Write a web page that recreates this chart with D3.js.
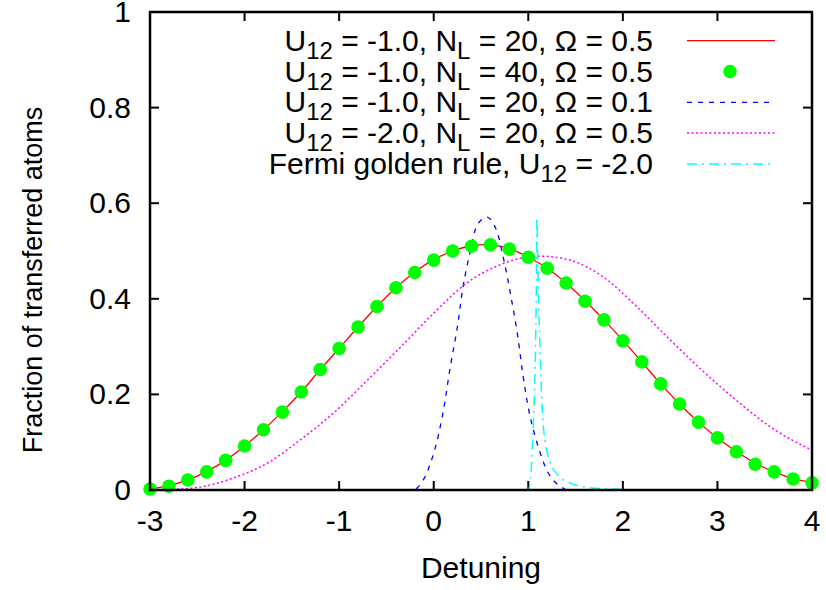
<!DOCTYPE html>
<html><head><meta charset="utf-8">
<script src="https://cdn.jsdelivr.net/npm/d3@7"></script>
<style>body{margin:0;background:#fff}text{font-family:"Liberation Sans",Arial,sans-serif}</style>
</head><body><svg id="c" width="826" height="590"></svg>
<script>
// ---- data ----
const gridX = [-3,-2.8,-2.6,-2.4,-2.2,-2.0,-1.8,-1.6,-1.4,-1.2,-1.0,-0.8,-0.6,-0.4,-0.2,0,0.2,0.4,0.6,0.8,1.0,1.2,1.4,1.6,1.8,2.0,2.2,2.4,2.6,2.8,3.0,3.2,3.4,3.6,3.8,4.0];
const redY = [0.002,0.009,0.021,0.039,0.062,0.092,0.126,0.164,0.205,0.252,0.296,0.341,0.384,0.423,0.456,0.482,0.500,0.511,0.513,0.505,0.487,0.464,0.433,0.396,0.356,0.313,0.268,0.222,0.180,0.142,0.109,0.081,0.056,0.038,0.024,0.016];
const greenY = [0.002,0.008,0.021,0.038,0.062,0.092,0.126,0.163,0.205,0.252,0.296,0.341,0.384,0.423,0.455,0.481,0.500,0.510,0.513,0.504,0.487,0.464,0.433,0.395,0.356,0.312,0.268,0.222,0.180,0.142,0.109,0.080,0.054,0.038,0.023,0.015];
const blueX = [-0.3,-0.2,-0.11,0,0.09,0.175,0.25,0.31,0.39,0.47,0.566,0.65,0.735,0.81,0.884,0.947,1.02,1.127,1.21,1.29,1.4];
const blueY = [0,0.001,0.021,0.077,0.153,0.257,0.341,0.425,0.502,0.558,0.571,0.55,0.487,0.412,0.328,0.236,0.153,0.077,0.036,0.015,0];
const magX = [-3,-2.79,-2.47,-2.12,-1.76,-1.41,-1.06,-0.70,-0.35,0,0.35,0.70,0.95,1.15,1.44,1.79,2.15,2.50,2.85,3.21,3.56,4.0];
const magY = [0,0.001,0.006,0.025,0.056,0.105,0.161,0.23,0.299,0.37,0.433,0.471,0.486,0.489,0.481,0.446,0.383,0.314,0.248,0.186,0.132,0.083];
const cyanX = [0.5,0.9,1.0,1.03,1.05,1.065,1.075,1.085,1.092,1.1,1.11,1.127,1.15,1.18,1.21,1.26,1.33,1.44,1.6,1.9,2.3,2.5];
const cyanY = [0,0,0,0.04,0.12,0.2,0.28,0.42,0.57,0.48,0.39,0.28,0.16,0.1,0.07,0.045,0.028,0.015,0.006,0.002,0,0];
const xTicks = [-3,-2,-1,0,1,2,3,4];
const yTicks = [0,0.2,0.4,0.6,0.8,1];
const xTickLabels = ["-3","-2","-1","0","1","2","3","4"];
const yTickLabels = ["0","0.2","0.4","0.6","0.8","1"];
const legendLabels = [
  [["U",""],["12","sub"],[" = -1.0, N",""],["L","sub"],[" = 20, Ω = 0.5",""]],
  [["U",""],["12","sub"],[" = -1.0, N",""],["L","sub"],[" = 40, Ω = 0.5",""]],
  [["U",""],["12","sub"],[" = -1.0, N",""],["L","sub"],[" = 20, Ω = 0.1",""]],
  [["U",""],["12","sub"],[" = -2.0, N",""],["L","sub"],[" = 20, Ω = 0.5",""]],
  [["Fermi golden rule, U",""],["12","sub"],[" = -2.0",""]]
];

// ---- layout ----
const L=150,R=812,T=12,B=490, FS=30;
const svg=d3.select("#c");
svg.append("rect").attr("width",826).attr("height",590).attr("fill","#fff");
const x=d3.scaleLinear().domain([-3,4]).range([L,R]);
const y=d3.scaleLinear().domain([0,1]).range([B,T]);

// axes (inner ticks, mirrored)
const tl=9;
const ax=svg.append("g").attr("stroke","#000").attr("stroke-width",2);
xTicks.forEach(t=>{
  ax.append("line").attr("x1",x(t)).attr("x2",x(t)).attr("y1",B).attr("y2",B-tl);
  ax.append("line").attr("x1",x(t)).attr("x2",x(t)).attr("y1",T).attr("y2",T+tl);
});
yTicks.forEach(t=>{
  ax.append("line").attr("x1",L).attr("x2",L+tl).attr("y1",y(t)).attr("y2",y(t));
  ax.append("line").attr("x1",R).attr("x2",R-tl).attr("y1",y(t)).attr("y2",y(t));
});
xTicks.forEach((t,i)=>svg.append("text").attr("x",x(t)).attr("y",B+41).attr("text-anchor","middle").attr("font-size",FS).text(xTickLabels[i]));
yTicks.forEach((t,i)=>svg.append("text").attr("x",L-19).attr("y",y(t)+10).attr("text-anchor","end").attr("font-size",FS).text(yTickLabels[i]));
svg.append("text").attr("x",481).attr("y",578).attr("text-anchor","middle").attr("font-size",FS).text("Detuning");
svg.append("text").attr("transform","translate(42,280) rotate(-90)").attr("text-anchor","middle").attr("font-size",27).text("Fraction of transferred atoms");

// curves
const g=svg.append("g");
const line=(xs,ys,c)=>d3.line().x((d,i)=>x(xs[i])).y((d,i)=>y(ys[i])).curve(c||d3.curveMonotoneX)(ys);
g.append("path").attr("d",line(gridX,redY,d3.curveCatmullRom)).attr("fill","none").attr("stroke","#ff0000").attr("stroke-width",1.3);
g.append("path").attr("d",line(blueX,blueY,d3.curveCatmullRom)).attr("fill","none").attr("stroke","#0000ff").attr("stroke-width",1.3).attr("stroke-dasharray","5,6");
g.append("path").attr("d",line(magX,magY,d3.curveMonotoneX)).attr("fill","none").attr("stroke","#ff00ff").attr("stroke-width",1.5).attr("stroke-dasharray","2,2.5");
g.append("path").attr("d",line(cyanX,cyanY,d3.curveMonotoneX)).attr("fill","none").attr("stroke","#00ffff").attr("stroke-width",1.5).attr("stroke-dasharray","10,5,2,5");
g.selectAll("circle.pt").data(greenY).enter().append("circle").attr("class","pt")
  .attr("cx",(d,i)=>x(gridX[i])).attr("cy",d=>y(d)).attr("r",6.8).attr("fill","#00ff00");

// border
svg.append("rect").attr("x",L).attr("y",T).attr("width",R-L).attr("height",B-T).attr("fill","none").attr("stroke","#000").attr("stroke-width",2.5);

// legend
const rowY=i=>40.7+30.8*i;
legendLabels.forEach((parts,i)=>{
  const t=svg.append("text").attr("x",653).attr("y",rowY(i)+10).attr("text-anchor","end").attr("font-size",FS);
  parts.forEach((p,j)=>{
    const s=t.append("tspan").text(p[0]);
    if(p[1]==="sub") s.attr("font-size",FS*0.8).attr("dy",8);
    else if(j>0 && parts[j-1][1]==="sub") s.attr("dy",-8);
  });
});
const lx1=687,lx2=775;
svg.append("line").attr("x1",lx1).attr("x2",lx2).attr("y1",rowY(0)).attr("y2",rowY(0)).attr("stroke","#ff0000").attr("stroke-width",1.3);
svg.append("circle").attr("cx",730).attr("cy",rowY(1)).attr("r",6.8).attr("fill","#00ff00");
svg.append("line").attr("x1",lx1).attr("x2",lx2).attr("y1",rowY(2)).attr("y2",rowY(2)).attr("stroke","#0000ff").attr("stroke-width",1.3).attr("stroke-dasharray","5,6");
svg.append("line").attr("x1",lx1).attr("x2",lx2).attr("y1",rowY(3)).attr("y2",rowY(3)).attr("stroke","#ff00ff").attr("stroke-width",1.5).attr("stroke-dasharray","2,2.5");
svg.append("line").attr("x1",lx1).attr("x2",lx2).attr("y1",rowY(4)).attr("y2",rowY(4)).attr("stroke","#00ffff").attr("stroke-width",1.5).attr("stroke-dasharray","10,5,2,5");
</script></body></html>
